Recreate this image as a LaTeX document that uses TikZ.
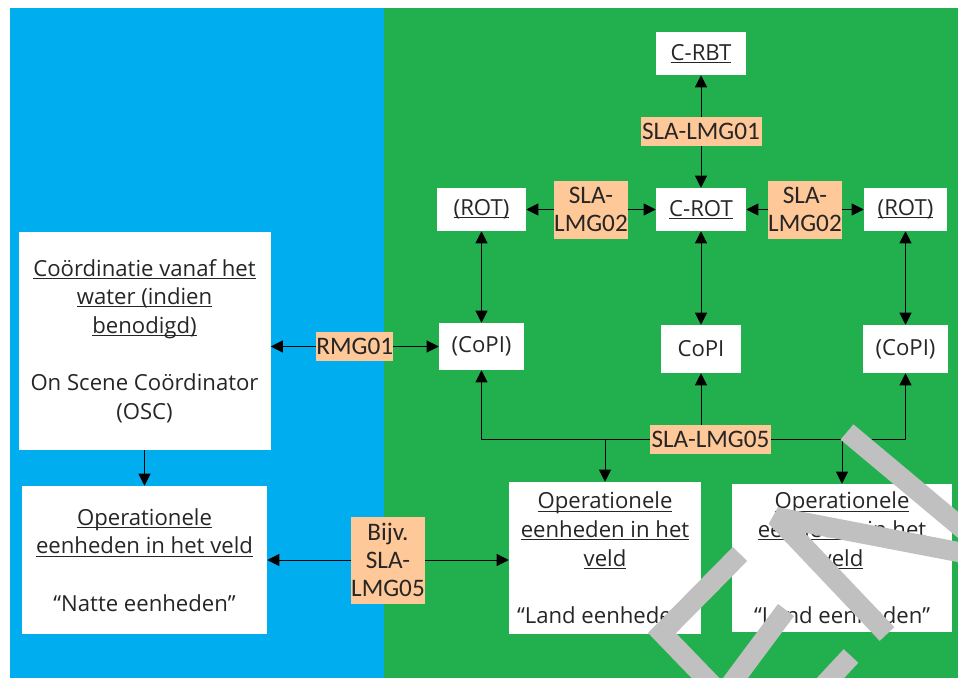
\documentclass[tikz,border=0pt]{standalone}
\usepackage{fontspec}
\setmainfont{Open Sans}
\newfontfamily\labelfont{Carlito}
\usetikzlibrary{arrows.meta}
\definecolor{crz-water}{HTML}{00AEEF}
\definecolor{crz-land}{HTML}{22B04E}
\definecolor{crz-tag}{HTML}{FFC898}
\definecolor{crz-ink}{HTML}{262626}
\definecolor{crz-mark}{HTML}{C0C0C0}
\newcommand{\onderstreept}[1]{\setbox0\hbox{#1}\rlap{\rule[-2pt]{\wd0}{0.75pt}}\box0}

\begin{document}
\begin{tikzpicture}[x=0.75pt,y=-0.75pt,
  box/.style={fill=white,text=crz-ink,align=center,inner sep=0pt,
    font=\fontsize{16.6pt}{21.5pt}\selectfont},
  tag/.style={fill=crz-tag,text=crz-ink,align=center,inner sep=0pt,
    font=\labelfont\fontsize{18.9pt}{21pt}\selectfont},
  sz/.style 2 args={minimum width=#1*0.75pt,minimum height=#2*0.75pt},
  pijl/.style={-{Triangle[width=9pt,length=9pt]},line width=0.75pt},
  dubbel/.style={{Triangle[width=9pt,length=9pt]}-{Triangle[width=9pt,length=9pt]},line width=0.75pt}]

% ============ background: water (left) and land (right) ============
\useasboundingbox (0,0) rectangle (958,678);
\fill[white] (0,0) rectangle (958,678);
\fill[crz-water] (10,8) rectangle (384,678);
\fill[crz-land] (384,8) rectangle (958,678);

% ============ land side: regional teams ============
\node[box,sz={90}{43}] (crbt) at (701,53.5) {\onderstreept{C-RBT}};
\node[box,sz={89}{43}] (rotl) at (481.5,209.5) {\onderstreept{(ROT)}};
\node[box,sz={90}{43}] (crot) at (701,209.5) {\onderstreept{C-ROT}};
\node[box,sz={83}{43}] (rotr) at (905.5,209.5) {\onderstreept{(ROT)}};

\node[box,sz={85}{47}] (copil) at (481.5,346.5) {(CoPI)};
\node[box,sz={80}{48}] (copic) at (701,349) {CoPI};
\node[box,sz={85}{48}] (copir) at (905.5,349) {(CoPI)};

\node[box,sz={192}{152}] (land1) at (605,558)
  {\onderstreept{Operationele}\\\onderstreept{eenheden in het}\\\onderstreept{veld}\\[21.5pt]“Land eenheden”};
\node[box,sz={220}{148}] (land2) at (842,558)
  {\onderstreept{Operationele}\\\onderstreept{eenheden in het}\\\onderstreept{veld}\\[21.5pt]“Land eenheden”};

% ============ water side ============
\node[box,sz={252}{218}] (osc) at (144.5,341)
  {\onderstreept{Coördinatie vanaf het}\\\onderstreept{water (indien}\\\onderstreept{benodigd)}\\[21.5pt]On Scene Coördinator\\(OSC)};
\node[box,sz={245}{148}] (natte) at (144.5,560)
  {\onderstreept{Operationele}\\\onderstreept{eenheden in het veld}\\[21.5pt]“Natte eenheden”};

% ============ links with agreements ============
\draw[dubbel] (crot) -- node[tag,sz={121}{29}] (sla01) {SLA-LMG01} (crbt);
\draw[dubbel] (rotl) -- node[tag,sz={74}{58}] (sla02l) {SLA-\\LMG02} (crot);
\draw[dubbel] (crot) -- node[tag,sz={74}{58}] (sla02r) {SLA-\\LMG02} (rotr);

\draw[dubbel] (rotl) -- (copil);
\draw[dubbel] (crot) -- (copic);
\draw[dubbel] (rotr) -- (copir);

\draw[dubbel] (osc.east |- copil) -- node[tag,sz={75}{29}] (rmg01) {RMG01} (copil);
\draw[pijl] (osc) -- (natte);
\draw[dubbel] (natte.east) -- node[tag,sz={74}{87}] (bijv) {Bijv.\\SLA-\\LMG05} (natte.east -| land1.west);

% bus under the CoPI's
\coordinate (bus) at (710.5,439.5);
\draw[line width=0.75pt] (copil |- bus) -- (copir |- bus);
\draw[pijl] (copil |- bus) -- (copil);
\draw[pijl] (copic |- bus) -- (copic);
\draw[pijl] (copir |- bus) -- (copir);
\draw[pijl] (land1 |- bus) -- (land1);
\draw[pijl] (land2 |- bus) -- (land2);
\node[tag,sz={121}{29}] (sla05) at (bus) {SLA-LMG05};

% ============ watermark strokes ============
\begin{scope}
  \clip (0,0) rectangle (958,678);
  \draw[crz-mark,line width=15pt,line join=bevel] (887,634) -- (776,517) -- (1000,560) -- (847,432);
  \draw[crz-mark,line width=15pt,line join=miter] (740,554) -- (662,633) -- (717,690);
  \draw[crz-mark,line width=15pt] (786,610) -- (728,688);
  \draw[crz-mark,line width=15pt] (851,656) -- (810,700);
\end{scope}

\end{tikzpicture}
\end{document}
